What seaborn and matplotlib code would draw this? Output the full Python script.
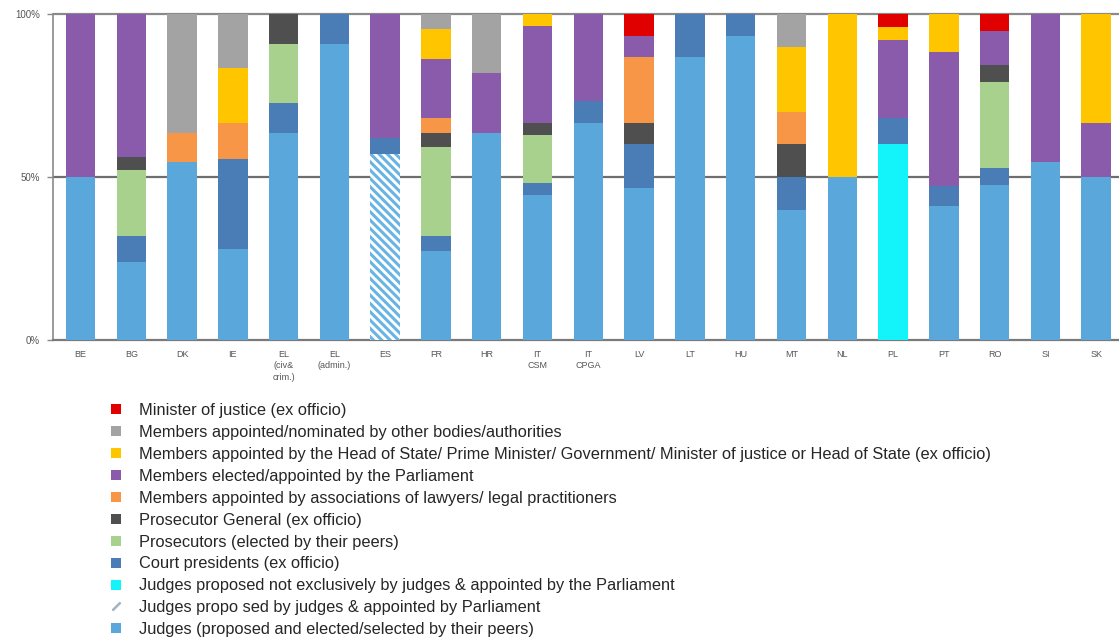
import numpy as np
import pandas as pd
import matplotlib
matplotlib.use("Agg")
import matplotlib.pyplot as plt
from matplotlib.lines import Line2D
import seaborn as sns

# Councils for the judiciary, composition by origin of members (% of members)
countries = ["BE", "BG", "DK", "IE", "EL\n(civ&\ncrim.)", "EL\n(admin.)", "ES", "FR", "HR",
             "IT\nCSM", "IT\nCPGA", "LV", "LT", "HU", "MT", "NL", "PL", "PT", "RO", "SI", "SK"]

judges_peers = [50, 24, 54.5, 27.8, 63.6, 90.9, 0, 27.3, 63.6, 44.4, 66.7, 46.7, 86.7, 93.3, 40, 50, 0, 41.2, 47.4, 54.5, 50]
judges_parl = [0, 0, 0, 0, 0, 0, 57.1, 0, 0, 0, 0, 0, 0, 0, 0, 0, 0, 0, 0, 0, 0]
judges_not_excl = [0, 0, 0, 0, 0, 0, 0, 0, 0, 0, 0, 0, 0, 0, 0, 0, 60, 0, 0, 0, 0]
court_presidents = [0, 8, 0, 27.8, 9.1, 9.1, 4.8, 4.5, 0, 3.7, 6.7, 13.3, 13.3, 6.7, 10, 0, 8, 5.9, 5.3, 0, 0]
prosecutors = [0, 20, 0, 0, 18.2, 0, 0, 27.3, 0, 14.8, 0, 0, 0, 0, 0, 0, 0, 0, 26.3, 0, 0]
prosecutor_general = [0, 4, 0, 0, 9.1, 0, 0, 4.5, 0, 3.7, 0, 6.7, 0, 0, 10, 0, 0, 0, 5.3, 0, 0]
lawyers = [0, 0, 9.1, 11.1, 0, 0, 0, 4.5, 0, 0, 0, 20, 0, 0, 10, 0, 0, 0, 0, 0, 0]
parliament = [50, 44, 0, 0, 0, 0, 38.1, 18.2, 18.2, 29.6, 26.7, 6.7, 0, 0, 0, 0, 24, 41.2, 10.5, 45.5, 16.7]
head_of_state = [0, 0, 0, 16.7, 0, 0, 0, 9.1, 0, 3.7, 0, 0, 0, 0, 20, 50, 4, 11.8, 0, 0, 33.3]
other_bodies = [0, 0, 36.4, 16.7, 0, 0, 0, 4.5, 18.2, 0, 0, 0, 0, 0, 10, 0, 0, 0, 0, 0, 0]
minister = [0, 0, 0, 0, 0, 0, 0, 0, 0, 0, 0, 6.7, 0, 0, 0, 0, 4, 0, 5.3, 0, 0]

legend_labels = [
    "Minister of justice (ex officio)",
    "Members appointed/nominated by other bodies/authorities",
    "Members appointed by the Head of State/ Prime Minister/ Government/ Minister of justice or Head of State (ex officio)",
    "Members elected/appointed by the Parliament",
    "Members appointed by associations of lawyers/ legal practitioners",
    "Prosecutor General (ex officio)",
    "Prosecutors (elected by their peers)",
    "Court presidents (ex officio)",
    "Judges proposed not exclusively by judges & appointed by the Parliament",
    "Judges propo sed by judges & appointed by Parliament",
    "Judges (proposed and elected/selected by their peers)",
]

# stacking order, bottom to top
layers = [judges_peers, judges_parl, judges_not_excl, court_presidents, prosecutors,
          prosecutor_general, lawyers, parliament, head_of_state, other_bodies, minister]
colors = ["#5AA7DB", "#FFFFFF", "#12F4FA", "#4A7DB5", "#A9D18E", "#4F4F4F",
          "#F79646", "#8A5AAB", "#FFC600", "#A3A3A3", "#E00000"]
hatches = [None, "\\\\\\\\", None, None, None, None, None, None, None, None, None]

df = pd.DataFrame({"country": countries})
cum = np.zeros(len(countries))
cums = []
for vals in layers:
    cum = cum + np.array(vals, dtype=float)
    cums.append(cum.copy())

sns.set_style("white")
plt.rcParams["font.family"] = ["Liberation Sans", "DejaVu Sans"]
plt.rcParams["hatch.linewidth"] = 2.2
plt.rcParams["hatch.color"] = "#6AB4E4"

fig = plt.figure(figsize=(11.19, 6.39), dpi=100)
ax = fig.add_axes([0.047, 0.468, 0.953, 0.51])

# draw cumulative totals from top layer down so lower layers overlay upper ones
for i in range(len(layers) - 1, -1, -1):
    d = df.copy()
    d["value"] = cums[i]
    sns.barplot(data=d, x="country", y="value", color=colors[i], saturation=1,
                width=0.58, ax=ax, zorder=3, linewidth=0)
    if hatches[i]:
        for patch in ax.patches[-len(countries):]:
            patch.set_hatch(hatches[i])
            patch.set_edgecolor("#6AB4E4")
            patch.set_linewidth(0)

ax.set_xlim(-0.55, len(countries) - 0.55)
ax.set_ylim(0, 100)
ax.set_yticks([0, 50, 100])
ax.set_yticklabels(["0%", "50%", "100%"], fontsize=7, color="#555555")
ax.tick_params(axis="y", length=4, width=1, color="#888888", pad=5, left=True)
ax.tick_params(axis="x", length=0, pad=7)
ax.set_xticks(range(len(countries)))
ax.set_xticklabels(countries, fontsize=6.5, color="#555555", linespacing=1.4)
ax.set_xlabel("")
ax.set_ylabel("")

ax.axhline(50, color="#6E6E6E", linewidth=1.6, zorder=1)
ax.axhline(100, color="#8A8A8A", linewidth=1.6, zorder=1, clip_on=False)
for side in ["top", "right"]:
    ax.spines[side].set_visible(False)
ax.spines["left"].set_color("#8A8A8A")
ax.spines["left"].set_linewidth(1.2)
ax.spines["bottom"].set_color("#7A7A7A")
ax.spines["bottom"].set_linewidth(1.6)

# legend entries, top to bottom
handles = []
for i in range(len(layers) - 1, -1, -1):
    if hatches[i]:
        handles.append(Line2D([0], [0], linestyle="none", marker=(2, 2, -45),
                              markersize=8, markeredgewidth=1.6,
                              markeredgecolor="#A3B4C4"))
    else:
        handles.append(Line2D([0], [0], linestyle="none", marker="s", markersize=6.5,
                              markerfacecolor=colors[i], markeredgewidth=0))

fig.legend(handles, legend_labels, loc="upper left", bbox_to_anchor=(0.098, 0.369),
           frameon=False, fontsize=11.8, handlelength=0.8, handletextpad=1.0,
           labelspacing=0.42, borderaxespad=0, borderpad=0)

fig.savefig("out.png", dpi=100)
